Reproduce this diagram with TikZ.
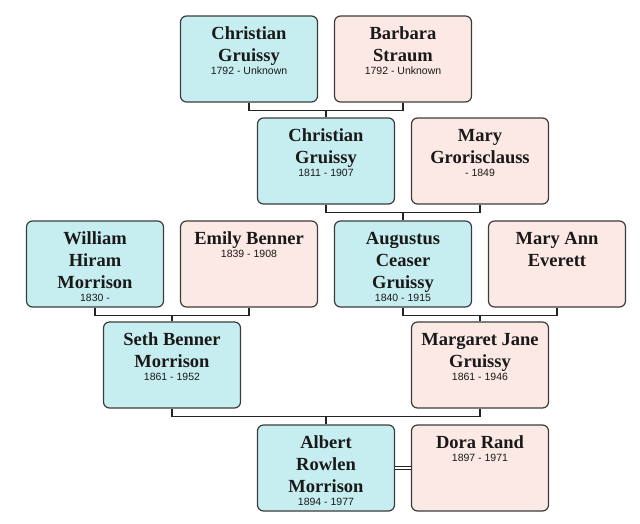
\documentclass[tikz,border=0pt]{standalone}
\usepackage{fontspec}
\setmainfont{Liberation Serif}
\newfontfamily\datefont{Liberation Sans}
\definecolor{cyanfill}{RGB}{198,238,240}
\definecolor{pinkfill}{RGB}{252,232,228}
\definecolor{boxline}{RGB}{60,60,60}
\definecolor{linecol}{RGB}{35,35,35}
\tikzset{
  card/.style={draw=boxline, line width=1.2pt, rounded corners=6pt, minimum width=137pt, minimum height=86pt, inner sep=0pt},
  male/.style={card, fill=cyanfill},
  female/.style={card, fill=pinkfill},
  nametext/.style={font=\fontsize{18.5}{22}\selectfont\bfseries, text=black!90, inner sep=0pt},
  datetext/.style={font=\datefont\fontsize{10.5}{12}\selectfont, text=black!90, inner sep=0pt},
  conn/.style={draw=linecol, line width=1.3pt},
  marriage/.style={draw=linecol, line width=1pt, double=white, double distance=2pt}
}
\newcommand\famcard[7]{%
  \node[#4] (#1) at (#2,#3+43) {};
  \foreach \ln [count=\k] in {#5} {\node[nametext, anchor=base] at (#2,{#3+23+22*(\k-1)}) {\ln};}
  \node[datetext, anchor=base] at (#2,{#3+23+22*(#6-1)+13}) {#7};
}
\begin{document}
\begin{tikzpicture}[x=1pt,y=-1pt]
\useasboundingbox (0,0) rectangle (640,523);
\famcard{cgA}{249}{16}{male}{Christian, Gruissy}{2}{1792 - Unknown}
\famcard{bs}{403}{16}{female}{Barbara, Straum}{2}{1792 - Unknown}
\famcard{cgB}{326}{118}{male}{Christian, Gruissy}{2}{1811 - 1907}
\famcard{mg}{480}{118}{female}{Mary, Grorisclauss}{2}{- 1849}
\famcard{whm}{95}{221}{male}{William, Hiram, Morrison}{3}{1830 -}
\famcard{eb}{249}{221}{female}{Emily Benner}{1}{1839 - 1908}
\famcard{acg}{403}{221}{male}{Augustus, Ceaser, Gruissy}{3}{1840 - 1915}
\famcard{mae}{557}{221}{female}{Mary Ann, Everett}{2}{}
\famcard{sbm}{172}{322}{male}{Seth Benner, Morrison}{2}{1861 - 1952}
\famcard{mjg}{480}{322}{female}{Margaret Jane, Gruissy}{2}{1861 - 1946}
\famcard{arm}{326}{425}{male}{Albert, Rowlen, Morrison}{3}{1894 - 1977}
\famcard{dr}{480}{425}{female}{Dora Rand}{1}{1897 - 1971}
% connectors
\draw[conn] (cgA.south) -- ++(0,8) coordinate (b1) -| (bs.south);
\draw[conn] (cgB.north) -- (cgB.north |- b1);
\draw[conn] (cgB.south) -- ++(0,8) coordinate (b2) -| (mg.south);
\draw[conn] (acg.north) -- (acg.north |- b2);
\draw[conn] (whm.south) -- ++(0,8) coordinate (b3) -| (eb.south);
\draw[conn] (sbm.north) -- (sbm.north |- b3);
\draw[conn] (acg.south) -- ++(0,8) coordinate (b4) -| (mae.south);
\draw[conn] (mjg.north) -- (mjg.north |- b4);
\draw[conn] (sbm.south) -- ++(0,8) coordinate (b5) -| (mjg.south);
\draw[conn] (arm.north) -- (arm.north |- b5);
\draw[marriage] (arm.east) -- (dr.west);
\end{tikzpicture}
\end{document}
